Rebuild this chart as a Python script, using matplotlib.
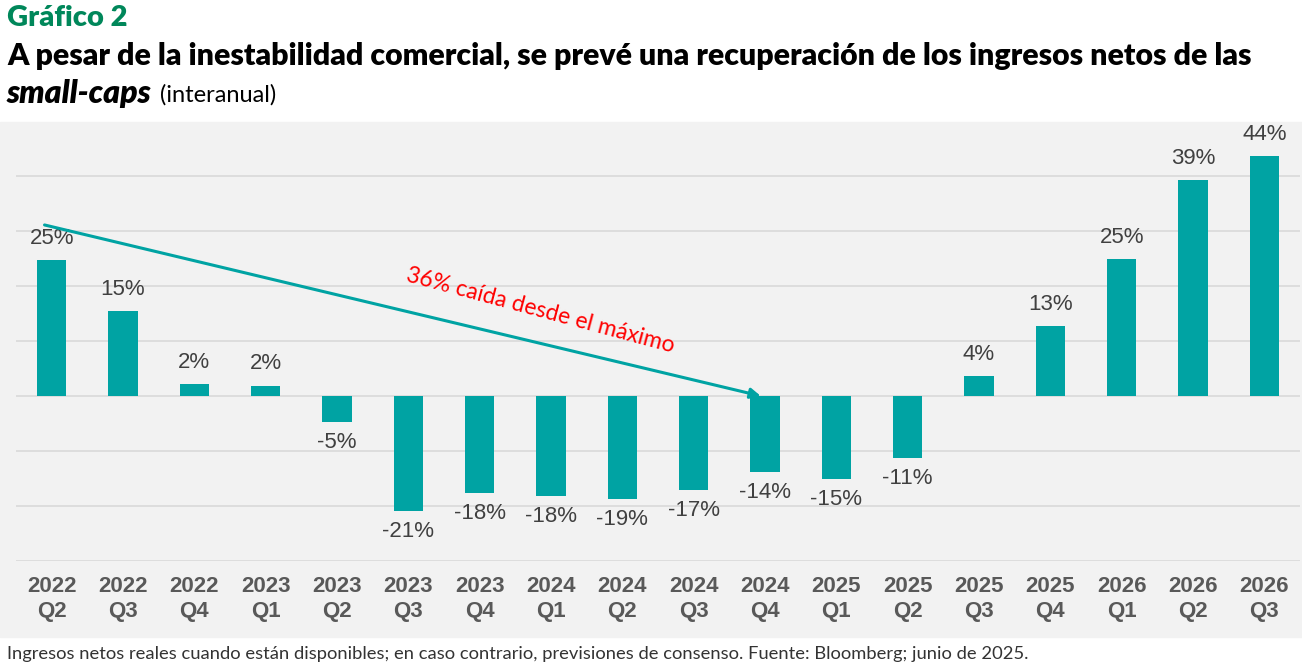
import matplotlib
matplotlib.use("Agg")
import matplotlib.pyplot as plt
from matplotlib.patches import Rectangle

# Data (year-on-year change in net income, %)
periods = ["2022\nQ2", "2022\nQ3", "2022\nQ4", "2023\nQ1", "2023\nQ2", "2023\nQ3",
           "2023\nQ4", "2024\nQ1", "2024\nQ2", "2024\nQ3", "2024\nQ4", "2025\nQ1",
           "2025\nQ2", "2025\nQ3", "2025\nQ4", "2026\nQ1", "2026\nQ2", "2026\nQ3"]
values = [24.7, 15.4, 2.2, 1.9, -4.7, -20.9, -17.6, -18.2, -18.7, -17.1,
          -13.8, -15.1, -11.3, 3.6, 12.7, 24.9, 39.2, 43.6]
arrow_start = (-0.1, 31.1)
arrow_end = (9.94, 0.0)

teal = "#00A3A3"
label_font = ["Liberation Sans Narrow", "Liberation Sans", "DejaVu Sans"]
title_font = ["Lato", "DejaVu Sans"]

fig = plt.figure(figsize=(13.02, 6.66), dpi=100)
W, H = 1302, 666

# grey panel behind the plot
fig.patches.append(Rectangle((0, 1 - 637 / H), 1, (637 - 122) / H,
                             transform=fig.transFigure, color="#F2F2F2", zorder=-1))

ax = fig.add_axes([16 / W, 1 - 561 / H, 1284 / W, 440 / H])
ax.set_zorder(2)
ax.set_facecolor("none")
x = list(range(len(values)))
ax.bar(x, values, width=0.41, color=teal, zorder=3)
ax.set_xlim(-0.5, len(values) - 0.5)
ax.set_ylim(-30, 50)
ax.set_yticks(range(-30, 50, 10))
ax.yaxis.grid(True, color="#D9D9D9", linewidth=1.2, zorder=0)
ax.tick_params(axis="y", left=False, labelleft=False)
ax.tick_params(axis="x", length=0, pad=11)
for s in ax.spines.values():
    s.set_visible(False)
ax.set_xticks(x)
ax.set_xticklabels(periods, fontsize=16, fontweight="bold", color="#595959",
                   family=label_font, linespacing=1.25)

for xi, v in zip(x, values):
    txt = f"{round(v)}%"
    if v >= 0:
        ax.annotate(txt, (xi, v), xytext=(0, 8), textcoords="offset points",
                    ha="center", va="bottom", fontsize=16, color="#404040",
                    family=label_font)
    else:
        ax.annotate(txt, (xi, v), xytext=(0, -7), textcoords="offset points",
                    ha="center", va="top", fontsize=16, color="#404040",
                    family=label_font)

ax.annotate("", xy=arrow_end, xytext=arrow_start,
            arrowprops=dict(arrowstyle="-|>,head_length=0.6,head_width=0.3",
                            color=teal, lw=2.2, shrinkA=0, shrinkB=0), zorder=4)
ax.text(6.85, 15.6, "36% caída desde el máximo", rotation=-15, color="#FF0000",
        fontsize=16.5, ha="center", va="center", family=title_font, zorder=5)

# titles
fig.text(7 / W, 1 - 18 / H, "Gráfico 2", fontsize=21, fontweight="heavy",
         color="#00875A", family=title_font, va="center")
fig.text(7 / W, 1 - 56 / H,
         "A pesar de la inestabilidad comercial, se prevé una recuperación de los ingresos netos de las",
         fontsize=21.8, fontweight="heavy", color="black", family=title_font, va="center")
t1 = fig.text(7 / W, 1 - 94 / H, "small-caps", fontsize=23, fontweight="heavy",
              style="italic", color="black", family=title_font, va="center")
renderer = fig.canvas.get_renderer()
bb = t1.get_window_extent(renderer)
fig.text((bb.x1 + 8) / W, 1 - 95 / H, "(interanual)", fontsize=17, color="black",
         family=title_font, va="center")

fig.text(7 / W, 1 - 654 / H,
         "Ingresos netos reales cuando están disponibles; en caso contrario, previsiones de consenso. Fuente: Bloomberg; junio de 2025.",
         fontsize=13.25, color="#333333", family=title_font, va="center")

fig.savefig("out.png", dpi=100)
